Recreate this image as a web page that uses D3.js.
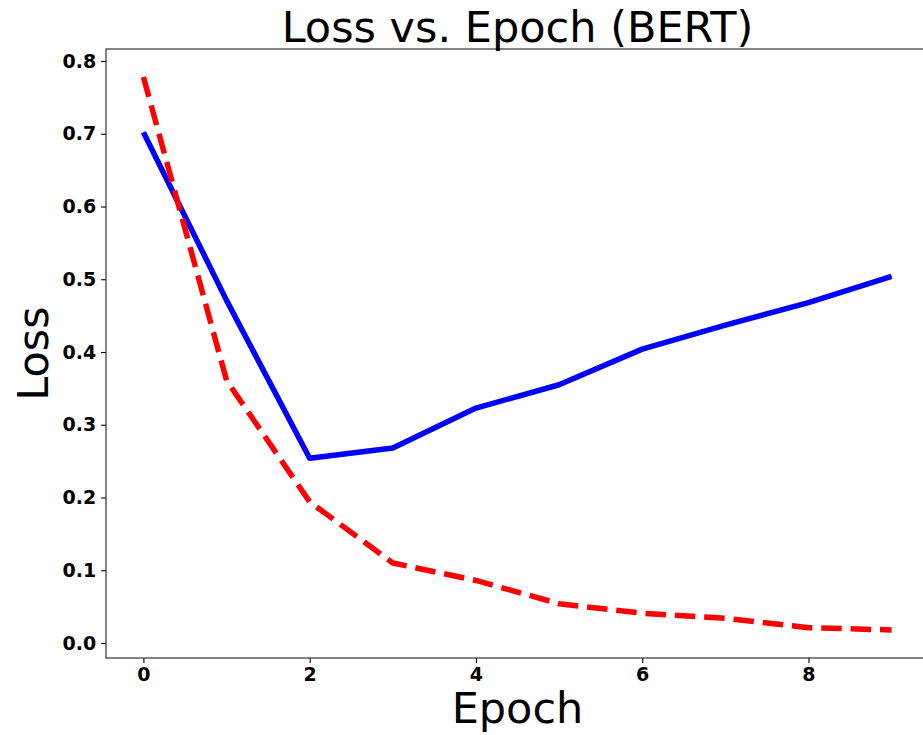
<!DOCTYPE html>
<html><head><meta charset="utf-8">
<script src="https://cdn.jsdelivr.net/npm/d3@7"></script>
<style>body{margin:0;background:#fff;overflow:hidden}</style></head>
<body>
<svg id="chart" width="923" height="735"></svg>
<script>
const epochs = [0,1,2,3,4,5,6,7,8,9];
const blueLoss = [0.702,0.471,0.254,0.268,0.323,0.355,0.404,0.437,0.468,0.504];
const redLoss  = [0.778,0.361,0.194,0.110,0.086,0.054,0.041,0.034,0.021,0.018];
const xTickValues = [0,2,4,6,8];
const yTickValues = [0.0,0.1,0.2,0.3,0.4,0.5,0.6,0.7,0.8];
const titleText = "Loss vs. Epoch (BERT)";
const xLabelText = "Epoch";
const yLabelText = "Loss";

const svg = d3.select("#chart");
const L = 106, T = 49, R = 929, B = 658;
const x = d3.scaleLinear().domain([-0.45, 9.45]).range([L, R]);
const y = d3.scaleLinear().domain([-0.0206, 0.8165]).range([B, T]);
const font = "'DejaVu Sans', sans-serif";

svg.append("rect").attr("x",0).attr("y",0).attr("width",923).attr("height",735).attr("fill","#fff");

const line = d3.line().x((d,i)=>x(epochs[i])).y(d=>y(d));

svg.append("path").datum(blueLoss).attr("d", line)
  .attr("fill","none").attr("stroke","#0000ff").attr("stroke-width",5.5)
  .attr("stroke-linejoin","round").attr("stroke-linecap","butt");
svg.append("path").datum(redLoss).attr("d", line)
  .attr("fill","none").attr("stroke","#ff0000").attr("stroke-width",5.5)
  .attr("stroke-dasharray","20.5,8.9").attr("stroke-linejoin","round");

const xAxis = svg.append("g").attr("transform",`translate(0,${B})`)
  .call(d3.axisBottom(x).tickValues(xTickValues).tickFormat(d3.format("d")).tickSize(4.9).tickPadding(4.9).tickSizeOuter(0));
const yAxis = svg.append("g").attr("transform",`translate(${L},0)`)
  .call(d3.axisLeft(y).tickValues(yTickValues).tickFormat(d3.format(".1f")).tickSize(4.9).tickPadding(4.9).tickSizeOuter(0));
[xAxis,yAxis].forEach(g=>{
  g.select(".domain").remove();
  g.selectAll("text").attr("font-family",font).attr("font-weight","bold").attr("font-size","19px").attr("fill","#000");
  g.selectAll("line").attr("stroke","#000").attr("stroke-width",1.1);
});

svg.append("rect").attr("x",L).attr("y",T).attr("width",R-L).attr("height",B-T)
  .attr("fill","none").attr("stroke","#222").attr("stroke-width",1.1);

svg.append("text").attr("x",(L+R)/2).attr("y",41.5).attr("text-anchor","middle")
  .attr("font-family",font).attr("font-size","43px").attr("fill","#000").text(titleText);
svg.append("text").attr("x",(L+R)/2).attr("y",723).attr("text-anchor","middle")
  .attr("font-family",font).attr("font-size","43px").attr("fill","#000").text(xLabelText);
svg.append("text").attr("transform",`translate(48,${(T+B)/2}) rotate(-90)`).attr("text-anchor","middle")
  .attr("font-family",font).attr("font-size","43px").attr("fill","#000").text(yLabelText);
</script>
</body></html>
